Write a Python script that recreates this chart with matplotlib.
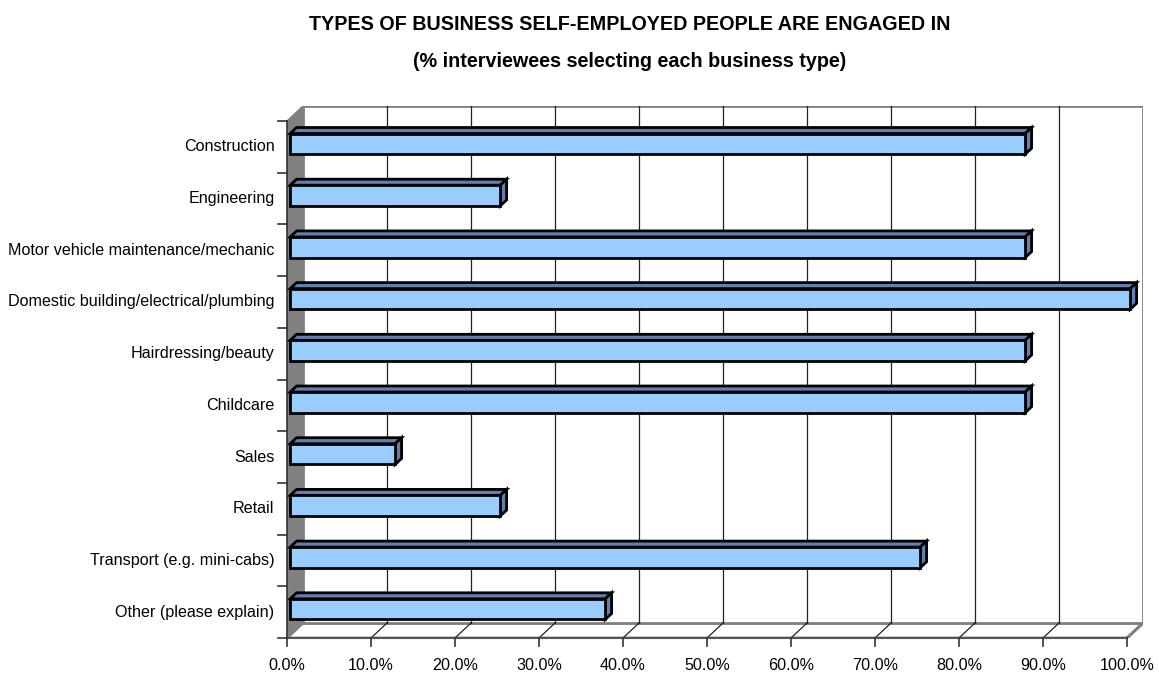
# Horizontal 3-D style bar chart: types of business of self-employed people

import matplotlib
matplotlib.use('Agg')
import matplotlib.pyplot as plt
from matplotlib.patches import Polygon
import numpy as np

categories = ['Construction', 'Engineering', 'Motor vehicle maintenance/mechanic',
              'Domestic building/electrical/plumbing', 'Hairdressing/beauty', 'Childcare',
              'Sales', 'Retail', 'Transport (e.g. mini-cabs)', 'Other (please explain)']
values = [87.5, 25.0, 87.5, 100.0, 87.5, 87.5, 12.5, 25.0, 75.0, 37.5]
xticks = np.arange(0, 101, 10)
xticklabels = ['%.1f%%' % t for t in xticks]

title = 'TYPES OF BUSINESS SELF-EMPLOYED PEOPLE ARE ENGAGED IN\n(% interviewees selecting each business type)'

plt.rcParams['font.family'] = ['Liberation Sans', 'DejaVu Sans']

W, H = 1159, 674
fig = plt.figure(figsize=(W / 100, H / 100), dpi=100)
ax = fig.add_axes([287 / W, (H - 638) / H, (1143 - 287) / W, (638 - 106) / H])

n = len(categories)
# depth offset of the back wall (in data units)
ox = 16 / 8.4
oy = 15 / 51.7
z1, z2 = 0.2, 0.6      # bar depth position inside the box
half = 0.2             # half bar thickness

ax.set_xlim(0, 100 + ox)
ax.set_ylim(-0.5, n - 0.5 + oy)
ax.axis('off')

ylo, yhi = -0.5, n - 0.5
grid_c = '#222222'
wall_c = '#808080'

# side wall
ax.add_patch(Polygon([(0, ylo), (ox, ylo + oy), (ox, yhi + oy), (0, yhi)],
                     closed=True, fc=wall_c, ec=wall_c, lw=1, zorder=1))
# floor
ax.add_patch(Polygon([(0, ylo), (100, ylo), (100 + ox, ylo + oy), (ox, ylo + oy)],
                     closed=True, fc='white', ec=wall_c, lw=2, zorder=1))
# back wall
ax.add_patch(Polygon([(ox, ylo + oy), (100 + ox, ylo + oy), (100 + ox, yhi + oy), (ox, yhi + oy)],
                     closed=True, fc='white', ec=wall_c, lw=2, zorder=1))

# gridlines on back wall + floor
for t in xticks[1:-1]:
    ax.plot([t + ox, t + ox], [ylo + oy, yhi + oy], color=grid_c, lw=0.9, zorder=2)
    ax.plot([t, t + ox], [ylo, ylo + oy], color=grid_c, lw=0.9, zorder=2)
ax.plot([100, 100 + ox], [ylo, ylo + oy], color=wall_c, lw=2, zorder=2)

# front axes lines and ticks
ax.plot([0, 100], [ylo, ylo], color='#555555', lw=1.5, zorder=3, clip_on=False)
ax.plot([0, 0], [ylo, yhi], color='#333333', lw=1.2, zorder=3, clip_on=False)
tick_dy = 8 / 51.7
tick_dx = 9 / 8.4
for t, lab in zip(xticks, xticklabels):
    ax.plot([t, t], [ylo, ylo - tick_dy], color='#333333', lw=1.2, clip_on=False, zorder=3)
    ax.text(t, ylo - 28 / 51.7, lab, ha='center', va='center', fontsize=11.6, clip_on=False)
for b in np.arange(ylo, yhi + 0.01, 1.0):
    ax.plot([0, -tick_dx], [b, b], color='#333333', lw=1.2, clip_on=False, zorder=3)

# bars, top category first
ypos = np.arange(n)[::-1]
front_c = '#99CCFF'
side_c = '#6080B0'
ax.barh(ypos + z1 * oy, values, height=2 * half, left=z1 * ox,
        color=front_c, edgecolor='black', linewidth=2, zorder=6)
for y, v in zip(ypos, values):
    top = [(z1 * ox, y + half + z1 * oy), (v + z1 * ox, y + half + z1 * oy),
           (v + z2 * ox, y + half + z2 * oy), (z2 * ox, y + half + z2 * oy)]
    end = [(v + z1 * ox, y - half + z1 * oy), (v + z1 * ox, y + half + z1 * oy),
           (v + z2 * ox, y + half + z2 * oy), (v + z2 * ox, y - half + z2 * oy)]
    ax.add_patch(Polygon(top, closed=True, fc=side_c, ec='black', lw=2, zorder=5))
    ax.add_patch(Polygon(end, closed=True, fc=side_c, ec='black', lw=2, zorder=5))
    ax.text(-1.5, y, categories[n - 1 - y], ha='right', va='center', fontsize=11.6, clip_on=False)

fig.text(630 / W, 1 - 43 / H, title, ha='center', va='center', fontsize=14.2,
         fontweight='bold', linespacing=2.2)

fig.savefig('out.png', dpi=100)
